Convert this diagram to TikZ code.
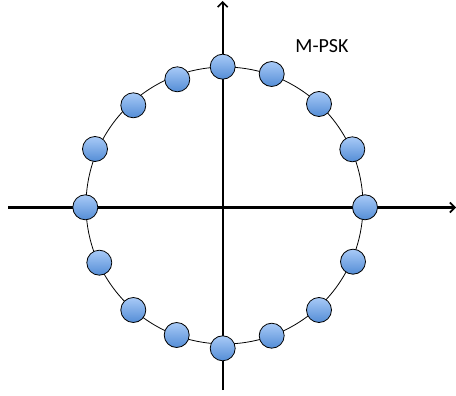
\documentclass[tikz,border=0pt]{standalone}
\usepackage{fontspec}
\setmainfont{Carlito}
\usetikzlibrary{arrows.meta}
\begin{document}
\begin{tikzpicture}[x=1pt,y=-1pt,
  axis/.style={line width=2.2pt,-{Straight Barb[length=5pt,width=10pt,line width=1.6pt]}},
  ring/.style={line width=0.8pt},
  dot/.style={circle,draw=black,line width=0.8pt,minimum size=25pt,inner sep=0pt,
    top color={rgb,255:red,168;green,202;blue,247},bottom color={rgb,255:red,84;green,141;blue,214}},
  lbl/.style={font=\fontsize{20}{24}\selectfont,inner sep=0pt}]
\useasboundingbox (0,0) rectangle (456,396);
\coordinate (xs) at (8,207.5);
\coordinate (xe) at (456,207.5);
\coordinate (ys) at (222.7,390);
\coordinate (ye) at (222.7,1);
\draw[axis] (xs) -- (xe);
\draw[axis] (ys) -- (ye);
\draw[ring] (224.5,205.5) circle[radius=138.5pt];
\node[dot] (d0) at (365,207.3) {};
\node[dot] (d1) at (352.3,149.3) {};
\node[dot] (d2) at (319,104) {};
\node[dot] (d3) at (271.7,74) {};
\node[dot] (d4) at (222.7,66.7) {};
\node[dot] (d5) at (177.3,79.3) {};
\node[dot] (d6) at (133.3,105.3) {};
\node[dot] (d7) at (95,149) {};
\node[dot] (d8) at (85.3,207.3) {};
\node[dot] (d9) at (99.3,262.7) {};
\node[dot] (d10) at (133.3,310) {};
\node[dot] (d11) at (176.7,335) {};
\node[dot] (d12) at (222.7,348.3) {};
\node[dot] (d13) at (271.7,335.7) {};
\node[dot] (d14) at (319,310) {};
\node[dot] (d15) at (353,261.7) {};
\node[lbl] (title) at (322,46.5) {M-PSK};
\end{tikzpicture}
\end{document}
